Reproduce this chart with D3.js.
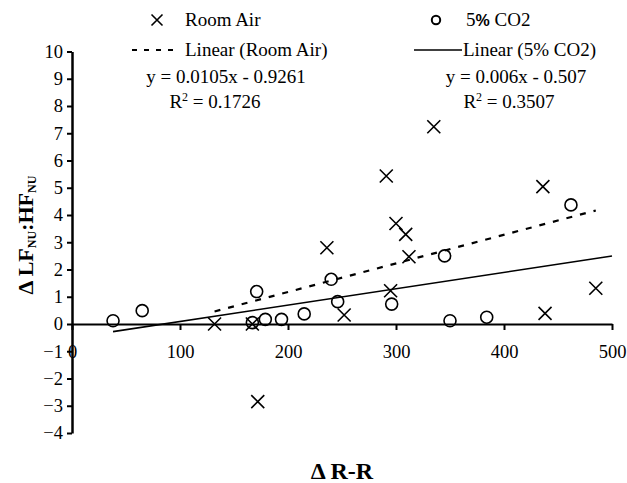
<!DOCTYPE html>
<html><head><meta charset="utf-8">
<script src="https://cdn.jsdelivr.net/npm/d3@7"></script>
<style>body{margin:0;background:#fff}svg{display:block}text{font-family:"Liberation Serif","Times New Roman",serif;fill:#000}</style>
</head><body><svg id="c" width="627" height="483"></svg>
<script>
// Data
const roomAirX = [132, 167, 172, 236, 252, 291, 295, 300, 309, 312, 335, 436, 438, 485];
const roomAirY = [0.0, 0.0, -2.85, 2.80, 0.33, 5.43, 1.22, 3.69, 3.29, 2.47, 7.24, 5.04, 0.39, 1.31];
const co2X = [38, 65, 167, 171, 179, 194, 215, 240, 246, 296, 345, 350, 384, 462];
const co2Y = [0.12, 0.49, 0.05, 1.19, 0.17, 0.17, 0.37, 1.64, 0.82, 0.73, 2.50, 0.12, 0.25, 4.37];
const trendRoomAir = [0.0105, -0.9261];   // slope, intercept
const trendCO2 = [0.006, -0.507];
const trendRoomAirRange = [132, 485];
const trendCO2Range = [38, 500];
const xTicks = [0, 100, 200, 300, 400, 500];
const yTicks = [-4, -3, -2, -1, 0, 1, 2, 3, 4, 5, 6, 7, 8, 9, 10];

const svg = d3.select("#c");
const x = d3.scaleLinear().domain([0, 500]).range([72, 612]);
const y = d3.scaleLinear().domain([-4, 10]).range([433, 51.5]);
const FS = 19, TFS = 18.5;

// Y axis
const ya = svg.append("g").attr("transform", `translate(${x(0)},0)`)
  .call(d3.axisLeft(y).tickValues(yTicks).tickSize(5).tickSizeOuter(0).tickPadding(4));
ya.select(".domain").attr("stroke-width", 2.5);
ya.selectAll(".tick line").attr("stroke-width", 2);
ya.selectAll(".tick text").attr("font-size", TFS).attr("font-family", "Liberation Serif");

// X axis at y=0
const xa = svg.append("g").attr("transform", `translate(0,${y(0)})`)
  .call(d3.axisBottom(x).tickValues(xTicks).tickSize(6).tickSizeOuter(0));
xa.select(".domain").attr("stroke-width", 2.2);
xa.selectAll(".tick line").attr("stroke-width", 2);
xa.selectAll(".tick text").attr("font-size", TFS).attr("font-family", "Liberation Serif").attr("y", 21);

// Trend lines
function trend(c, r) { return r.map(v => [v, c[0] * v + c[1]]); }
const line = d3.line().x(d => x(d[0])).y(d => y(d[1]));
svg.append("path").attr("d", line(trend(trendRoomAir, trendRoomAirRange)))
  .attr("fill", "none").attr("stroke", "#000").attr("stroke-width", 2.2).attr("stroke-dasharray", "6,8");
svg.append("path").attr("d", line(trend(trendCO2, trendCO2Range)))
  .attr("fill", "none").attr("stroke", "#000").attr("stroke-width", 1.6);

// Markers
const S = 6.5;
function cross(g, cx, cy, s) {
  g.append("path").attr("d", `M${cx - s},${cy - s}L${cx + s},${cy + s}M${cx - s},${cy + s}L${cx + s},${cy - s}`)
    .attr("stroke", "#000").attr("stroke-width", 1.6).attr("fill", "none");
}
const gc = svg.append("g");
co2X.forEach((v, i) => {
  gc.append("circle").attr("cx", x(v)).attr("cy", y(co2Y[i])).attr("r", 6)
    .attr("fill", "none").attr("stroke", "#000").attr("stroke-width", 1.6);
});
const gr = svg.append("g");
roomAirX.forEach((v, i) => cross(gr, x(v), y(roomAirY[i]), S));

// Legend
const lg = svg.append("g");
cross(lg, 157, 20, 5.5);
lg.append("text").attr("x", 185).attr("y", 26).attr("font-size", FS).text("Room Air");
lg.append("circle").attr("cx", 436).attr("cy", 20).attr("r", 4.2).attr("fill", "none").attr("stroke", "#000").attr("stroke-width", 2);
const t2 = lg.append("text").attr("x", 466).attr("y", 26).attr("font-size", FS);
t2.append("tspan").text("5");
t2.append("tspan").attr("font-weight", "bold").attr("font-family", "Liberation Sans").attr("font-size", 16).text("%");
t2.append("tspan").text(" CO2");

lg.append("line").attr("x1", 132).attr("x2", 180).attr("y1", 50).attr("y2", 50)
  .attr("stroke", "#000").attr("stroke-width", 2).attr("stroke-dasharray", "5,7");
lg.append("text").attr("x", 185).attr("y", 56).attr("font-size", FS).text("Linear (Room Air)");
lg.append("text").attr("x", 226).attr("y", 83).attr("font-size", FS).attr("text-anchor", "middle").text("y = 0.0105x - 0.9261");
const r1 = lg.append("text").attr("x", 215).attr("y", 108).attr("font-size", FS).attr("text-anchor", "middle");
r1.append("tspan").text("R");
r1.append("tspan").attr("font-size", 12).attr("dy", -7).text("2");
r1.append("tspan").attr("dy", 7).text(" = 0.1726");

lg.append("line").attr("x1", 414).attr("x2", 462).attr("y1", 50).attr("y2", 50)
  .attr("stroke", "#000").attr("stroke-width", 1.6);
lg.append("text").attr("x", 463).attr("y", 56).attr("font-size", FS).text("Linear (5% CO2)");
lg.append("text").attr("x", 516).attr("y", 83).attr("font-size", FS).attr("text-anchor", "middle").text("y = 0.006x - 0.507");
const r2 = lg.append("text").attr("x", 509).attr("y", 108).attr("font-size", FS).attr("text-anchor", "middle");
r2.append("tspan").text("R");
r2.append("tspan").attr("font-size", 12).attr("dy", -7).text("2");
r2.append("tspan").attr("dy", 7).text(" = 0.3507");

// Axis titles
svg.append("text").attr("x", 342).attr("y", 479).attr("text-anchor", "middle")
  .attr("font-size", 24).attr("font-weight", "bold").text("Δ R-R");
const yl = svg.append("text").attr("transform", "translate(33,235) rotate(-90)").attr("text-anchor", "middle")
  .attr("font-size", 22).attr("font-weight", "bold");
yl.append("tspan").text("Δ LF");
yl.append("tspan").attr("font-size", 12).attr("dy", 3).text("NU");
yl.append("tspan").attr("dy", -3).text(":HF");
yl.append("tspan").attr("font-size", 12).attr("dy", 3).text("NU");
</script></body></html>
